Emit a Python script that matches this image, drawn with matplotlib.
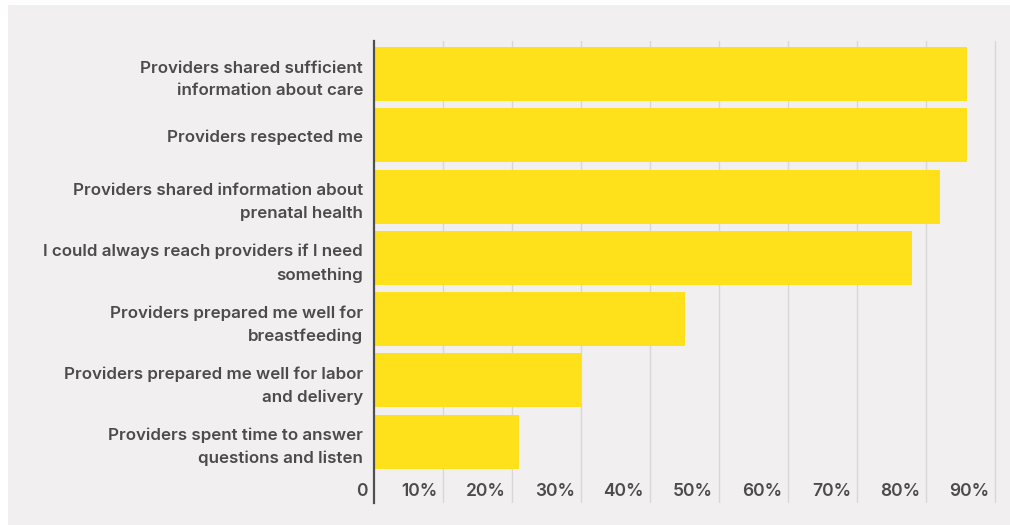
import matplotlib.pyplot as plt
import matplotlib.patches as patches
import matplotlib.transforms as mtransforms

categories = [
    "Providers shared sufficient\ninformation about care",
    "Providers respected me",
    "Providers shared information about\nprenatal health",
    "I could always reach providers if I need\nsomething",
    "Providers prepared me well for\nbreastfeeding",
    "Providers prepared me well for labor\nand delivery",
    "Providers spent time to answer\nquestions and listen",
]
values = [86, 86, 82, 78, 45, 30, 21]
tick_values = [0, 10, 20, 30, 40, 50, 60, 70, 80, 90]
tick_labels = ["0", "10%", "20%", "30%", "40%", "50%", "60%", "70%", "80%", "90%"]

BAR_COLOR = "#FFE11B"
PANEL_COLOR = "#F1EFF0"
GRID_COLOR = "#D8D6D7"
TEXT_COLOR = "#4B4B4B"

plt.rcParams['font.family'] = ['Inter', 'DejaVu Sans']

W, H = 1010, 525
fig = plt.figure(figsize=(W / 100, H / 100), dpi=100, facecolor="white")

# light grey card behind the chart
card = patches.Rectangle((8 / W, 0), 1 - 8 / W, 1 - 5 / H,
                         transform=fig.transFigure,
                         facecolor=PANEL_COLOR, edgecolor="none", zorder=-5)
fig.add_artist(card)

# axes box in pixel terms: x 374..1002, y 41..503 (from top)
left, right = 374, 1002
top, bottom = 41, 503
ax = fig.add_axes([left / W, 1 - bottom / H, (right - left) / W, (bottom - top) / H])
ax.set_facecolor("none")

y = list(range(len(categories)))
ax.barh(y, values, height=0.88, color=BAR_COLOR, zorder=2)

ax.set_xlim(0, 91)
ax.set_ylim(7.0, -0.54)

for v in tick_values[1:]:
    ax.axvline(v, color=GRID_COLOR, lw=1, zorder=1)

for s in ["top", "right", "bottom"]:
    ax.spines[s].set_visible(False)
ax.spines["left"].set_color("#4F4F4F")
ax.spines["left"].set_linewidth(1.6)
ax.spines["left"].set_zorder(3)

ax.set_xticks([])
ax.set_yticks(y)
ax.set_yticklabels(categories, fontsize=12.2, fontweight="semibold", color=TEXT_COLOR,
                   linespacing=1.62)
ax.tick_params(axis="y", length=0, pad=8)

# value ticks sit inside the plot, just left of each grid line
shifted = mtransforms.offset_copy(ax.transData, fig=fig, x=-6, y=0, units="dots")
for v, lab in zip(tick_values, tick_labels):
    ax.text(v, 6.81, lab, transform=shifted, ha="right", va="center",
            fontsize=12.5, fontweight="semibold", color=TEXT_COLOR)

fig.savefig("out.png", dpi=100, facecolor="white")
